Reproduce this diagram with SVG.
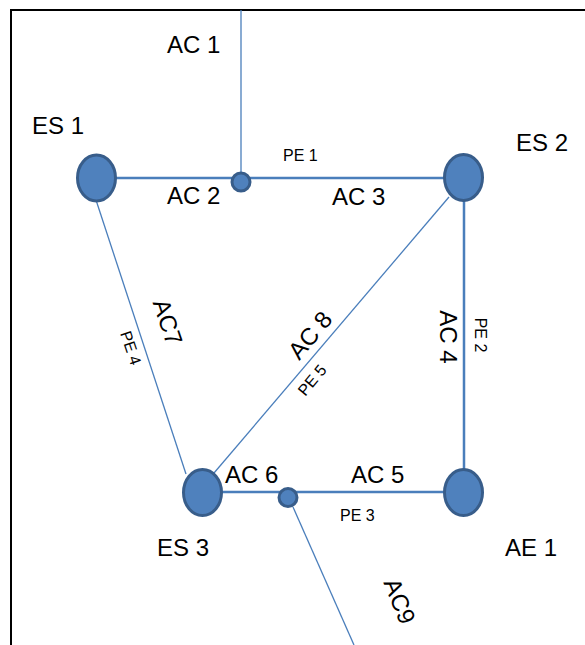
<svg xmlns="http://www.w3.org/2000/svg" width="585" height="645" viewBox="0 0 585 645">
<style>
.big{font-family:"Liberation Sans",Arial,sans-serif;font-size:24px;fill:#000}
.sm{font-family:"Liberation Sans",Arial,sans-serif;font-size:16px;fill:#000}
.es{fill:#4F81BD;stroke:#385D8A;stroke-width:3}
.thick{stroke:#4A7EBB;stroke-width:2.5;fill:none}
.thin{stroke:#4A7EBB;stroke-width:1.3;fill:none}
</style>
<rect x="0" y="0" width="585" height="645" fill="#fff"/>
<rect x="11" y="10" width="700" height="700" fill="none" stroke="#000" stroke-width="2"/>
<g id="connectors">
<line class="thin" x1="241" y1="10" x2="241" y2="182"/>
<line class="thick" x1="96" y1="178" x2="464" y2="178"/>
<line class="thick" x1="464" y1="178" x2="464" y2="493"/>
<line class="thick" x1="202" y1="492" x2="464" y2="492"/>
<line class="thin" x1="96" y1="200" x2="186" y2="474"/>
<line class="thin" x1="449" y1="197" x2="214" y2="473"/>
<line class="thin" x1="293" y1="507" x2="354" y2="645"/>
</g>
<g id="ES1"><ellipse class="es" cx="96.5" cy="178" rx="19" ry="23"/><text class="big" x="32" y="134">ES 1</text></g>
<g id="ES2"><ellipse class="es" cx="463.5" cy="177.5" rx="19" ry="23"/><text class="big" x="516" y="151">ES 2</text></g>
<g id="ES3"><ellipse class="es" cx="202.5" cy="492.5" rx="19" ry="23"/><text class="big" x="157" y="556">ES 3</text></g>
<g id="AE1"><ellipse class="es" cx="463.5" cy="492.5" rx="19" ry="23"/><text class="big" x="505" y="556">AE 1</text></g>
<g id="PE1node"><ellipse class="es" cx="241" cy="182" rx="9" ry="9"/></g>
<g id="PE3node"><ellipse class="es" cx="288" cy="497.5" rx="9" ry="9"/></g>
<g id="labels">
<text class="big" x="167" y="53">AC 1</text>
<text class="big" x="167" y="204">AC 2</text>
<text class="big" x="332" y="205">AC 3</text>
<text class="sm" x="283" y="161">PE 1</text>
<text class="big" x="225" y="483">AC 6</text>
<text class="big" x="351" y="483">AC 5</text>
<text class="sm" x="340" y="521">PE 3</text>
<text class="big" text-anchor="middle" x="0" y="8.5" transform="translate(168,322) rotate(71.5)">AC7</text>
<text class="sm" text-anchor="middle" x="0" y="5.7" transform="translate(131,348) rotate(71.5)">PE 4</text>
<text class="big" text-anchor="middle" x="0" y="8.5" transform="translate(310,335) rotate(-50)">AC 8</text>
<text class="sm" text-anchor="middle" x="0" y="5.7" transform="translate(312,380) rotate(-50)">PE 5</text>
<text class="big" text-anchor="middle" x="0" y="8.5" transform="translate(448,337) rotate(90)">AC 4</text>
<text class="sm" text-anchor="middle" x="0" y="5.7" transform="translate(481,335) rotate(90)">PE 2</text>
<text class="big" text-anchor="middle" x="0" y="8.5" transform="translate(400,601) rotate(68)">AC9</text>
</g>
</svg>
